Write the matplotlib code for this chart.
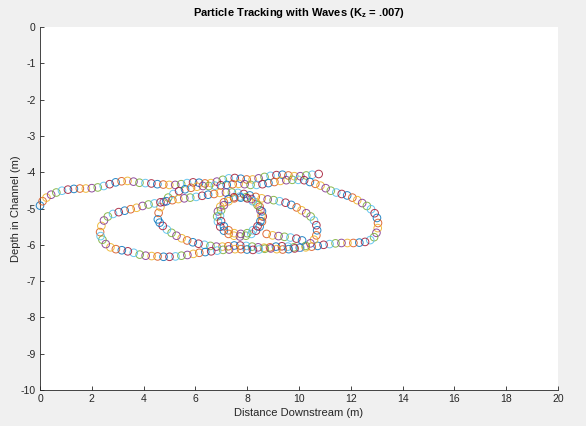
import matplotlib
matplotlib.use("Agg")
import matplotlib.pyplot as plt

plt.rcParams['font.family'] = ['Liberation Sans', 'DejaVu Sans']
plt.rcParams['axes.unicode_minus'] = False
plt.rcParams['mathtext.fontset'] = 'custom'
plt.rcParams['mathtext.rm'] = 'Liberation Sans:bold'
plt.rcParams['mathtext.it'] = 'Liberation Sans:bold'

# ---- data ----
# top strand from the left edge to the upper right
top_x = [0, 0.1, 0.25, 0.43, 0.63, 0.85, 1.08, 1.31, 1.54, 1.77, 2.0, 2.23, 2.46, 2.69, 2.92, 3.15, 3.38,
         3.61, 3.84, 4.07, 4.3, 4.53, 4.76, 4.99, 5.22, 5.45, 5.68, 5.91, 6.14, 6.37, 6.6, 6.83, 7.06, 7.29,
         7.52, 7.75, 7.98, 8.21, 8.44, 8.67, 8.9, 9.13, 9.36, 9.59, 9.82, 10.05, 10.28, 10.51, 10.76]
top_y = [-4.92, -4.8, -4.7, -4.62, -4.56, -4.51, -4.48, -4.46, -4.45, -4.45, -4.44, -4.42, -4.38, -4.33,
         -4.28, -4.25, -4.24, -4.26, -4.29, -4.3, -4.31, -4.33, -4.34, -4.35, -4.35, -4.33, -4.3, -4.28,
         -4.29, -4.31, -4.3, -4.26, -4.21, -4.17, -4.16, -4.18, -4.2, -4.2, -4.17, -4.13, -4.1, -4.08,
         -4.07, -4.09, -4.11, -4.11, -4.09, -4.07, -4.05]

# large loop reaching x = 13
loopA_x = [4.55, 4.58, 4.65, 4.78, 4.95, 5.15, 5.37, 5.6, 5.83, 6.06, 6.29, 6.52, 6.75, 6.98, 7.21, 7.44,
           7.67, 7.9, 8.13, 8.36, 8.59, 8.82, 9.05, 9.28, 9.51, 9.74, 9.97, 10.2, 10.42, 10.63, 10.83,
           11.03, 11.23, 11.44, 11.65, 11.86, 12.06, 12.25, 12.44, 12.62, 12.78, 12.92, 13.01, 13.05,
           13.04, 12.99, 12.9, 12.75, 12.55, 12.33, 12.1, 11.87, 11.64, 11.41, 11.18, 10.95, 10.72,
           10.49, 10.26, 10.03, 9.8, 9.57, 9.34, 9.11, 8.88, 8.65, 8.42, 8.19, 7.96, 7.73, 7.5, 7.27,
           7.04, 6.81, 6.58, 6.35, 6.12, 5.9, 5.68, 5.47, 5.27, 5.08, 4.9, 4.74, 4.62]
loopA_y = [-5.3, -5.12, -4.96, -4.82, -4.7, -4.6, -4.52, -4.47, -4.43, -4.4, -4.38, -4.38, -4.37, -4.36,
           -4.35, -4.33, -4.32, -4.33, -4.35, -4.35, -4.33, -4.3, -4.27, -4.24, -4.22, -4.21, -4.21,
           -4.22, -4.27, -4.32, -4.37, -4.44, -4.51, -4.56, -4.6, -4.64, -4.7, -4.77, -4.85, -4.93,
           -5.02, -5.13, -5.26, -5.4, -5.54, -5.67, -5.79, -5.87, -5.92, -5.94, -5.95, -5.95, -5.95,
           -5.96, -5.98, -6.0, -6.03, -6.05, -6.07, -6.08, -6.07, -6.05, -6.04, -6.05, -6.07, -6.08,
           -6.07, -6.05, -6.03, -6.02, -6.02, -6.04, -6.05, -6.05, -6.03, -6.0, -5.97, -5.93, -5.88,
           -5.82, -5.75, -5.67, -5.58, -5.48, -5.39]

# loop from x = 2.3 to x = 10.7
loopB_x = [2.32, 2.37, 2.47, 2.62, 2.82, 3.04, 3.27, 3.5, 3.73, 3.96, 4.19, 4.42, 4.65, 4.88, 5.11, 5.34,
           5.57, 5.8, 6.03, 6.26, 6.49, 6.72, 6.95, 7.18, 7.41, 7.64, 7.87, 8.1, 8.33, 8.56, 8.79, 9.02,
           9.25, 9.48, 9.7, 9.91, 10.1, 10.28, 10.45, 10.58, 10.67, 10.7, 10.67, 10.58, 10.44, 10.26,
           10.05, 9.83, 9.6, 9.37, 9.14, 8.91, 8.68, 8.45, 8.22, 7.99, 7.76, 7.53, 7.3, 7.07, 6.84,
           6.61, 6.38, 6.15, 5.92, 5.69, 5.46, 5.23, 5.0, 4.77, 4.54, 4.31, 4.08, 3.85, 3.62, 3.39,
           3.16, 2.93, 2.72, 2.54, 2.41, 2.34]
loopB_y = [-5.65, -5.48, -5.33, -5.22, -5.15, -5.1, -5.06, -5.02, -4.98, -4.93, -4.89, -4.86, -4.83,
           -4.8, -4.77, -4.74, -4.72, -4.7, -4.68, -4.65, -4.62, -4.6, -4.57, -4.56, -4.56, -4.57, -4.6,
           -4.64, -4.68, -4.72, -4.75, -4.77, -4.8, -4.84, -4.9, -4.97, -5.05, -5.13, -5.22, -5.33,
           -5.46, -5.6, -5.74, -5.86, -5.96, -6.03, -6.08, -6.1, -6.12, -6.13, -6.12, -6.1, -6.11,
           -6.13, -6.14, -6.13, -6.12, -6.12, -6.13, -6.14, -6.16, -6.18, -6.2, -6.22, -6.25, -6.28,
           -6.3, -6.32, -6.33, -6.33, -6.32, -6.31, -6.3, -6.27, -6.22, -6.18, -6.15, -6.12, -6.07,
           -5.98, -5.86, -5.76]

# small loop near x = 7.7
ring1_x = [8.60, 8.57, 8.48, 8.34, 8.16, 7.95, 7.72, 7.49, 7.28, 7.10, 6.96, 6.87, 6.84, 6.87, 6.96, 7.10,
           7.28, 7.49, 7.72, 7.95, 8.16, 8.34, 8.48, 8.57]
ring1_y = [-5.22, -5.08, -4.95, -4.83, -4.74, -4.69, -4.67, -4.69, -4.74, -4.83, -4.95, -5.08, -5.22,
           -5.36, -5.50, -5.61, -5.70, -5.75, -5.77, -5.75, -5.70, -5.61, -5.50, -5.36]
ring2_x = [8.55, 8.51, 8.40, 8.22, 8.00, 7.75, 7.50, 7.28, 7.10, 6.99, 6.95, 6.99, 7.10, 7.28, 7.50, 7.75,
           8.00, 8.22, 8.40, 8.51]
ring2_y = [-5.2, -5.05, -4.91, -4.80, -4.72, -4.70, -4.72, -4.80, -4.91, -5.05, -5.2, -5.35, -5.49, -5.60,
           -5.68, -5.70, -5.68, -5.60, -5.49, -5.35]

# connecting strand below the small loop
link_x = [8.75, 8.98, 9.21, 9.44, 9.67, 9.9, 10.12]
link_y = [-5.7, -5.74, -5.76, -5.78, -5.8, -5.83, -5.88]

x_ticks = [0, 2, 4, 6, 8, 10, 12, 14, 16, 18, 20]
y_ticks = [0, -1, -2, -3, -4, -5, -6, -7, -8, -9, -10]

matlab_colors = ['#0072BD', '#D95319', '#EDB120', '#7E2F8E', '#77AC30', '#4DBEEE', '#A2142F']

# ---- figure ----
fig = plt.figure(figsize=(5.86, 4.26), dpi=100, facecolor='#F0F0F0')
ax = fig.add_axes([40 / 586, 36 / 426, 518 / 586, 363 / 426])
ax.set_facecolor('white')

all_x = top_x + loopA_x + loopB_x + ring1_x + ring2_x + link_x
all_y = top_y + loopA_y + loopB_y + ring1_y + ring2_y + link_y
cols = [matlab_colors[i % len(matlab_colors)] for i in range(len(all_x))]
ax.scatter(all_x, all_y, s=30, facecolors='none', edgecolors=cols, linewidths=0.7,
           alpha=0.85, clip_on=False, zorder=3)

ax.set_xlim(0, 20)
ax.set_ylim(-10, 0)
ax.set_xticks(x_ticks)
ax.set_yticks(y_ticks)
ax.set_xticklabels([str(v) for v in x_ticks])
ax.set_yticklabels([str(v) for v in y_ticks])

for s in ['top', 'right']:
    ax.spines[s].set_visible(False)
for s in ['left', 'bottom']:
    ax.spines[s].set_color('#262626')
    ax.spines[s].set_linewidth(0.6)
ax.tick_params(direction='in', length=3, width=0.6, colors='#262626', labelsize=7.5, pad=3)

ax.set_xlabel('Distance Downstream (m)', fontsize=8, color='#262626', labelpad=3)
ax.set_ylabel('Depth in Channel (m)', fontsize=8, color='#262626', labelpad=0)
ax.set_title('Particle Tracking with Waves (K$_{z}$ = .007)', fontsize=8, fontweight='bold',
             color='black', pad=8)

fig.savefig('out.png', dpi=100, facecolor=fig.get_facecolor())
